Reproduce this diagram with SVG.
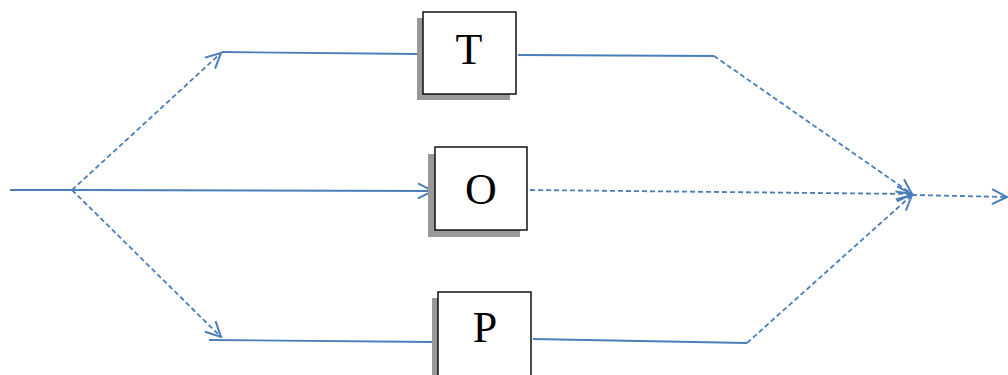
<svg xmlns="http://www.w3.org/2000/svg" width="1008" height="375" viewBox="0 0 1008 375">
<style>
.ln{fill:none;stroke:#4a7ebb;stroke-width:1.8}
.ds{stroke-dasharray:5,3}
.box{fill:#fff;stroke:#000;stroke-width:1.4}
.sh{fill:#999}
.lbl{font-family:"Liberation Serif","Times New Roman",serif;font-size:44px;fill:#000;text-anchor:middle}
</style>
<defs>
<marker id="arr" viewBox="0 0 18 18" refX="16" refY="9" markerWidth="18" markerHeight="18" markerUnits="userSpaceOnUse" orient="auto">
<path d="M1,1.5 L16,9 L1,16.5" fill="none" stroke="#4a7ebb" stroke-width="2"/>
</marker>
</defs>
<g id="connectors">
<line class="ln" x1="10" y1="190" x2="72" y2="190"/>
<line class="ln" x1="72" y1="190" x2="433" y2="191" marker-end="url(#arr)"/>
<line class="ln ds" x1="72" y1="190" x2="221" y2="53" marker-end="url(#arr)"/>
<line class="ln" x1="222" y1="52" x2="418" y2="54"/>
<line class="ln ds" x1="72" y1="190" x2="221" y2="337" marker-end="url(#arr)"/>
<line class="ln" x1="209" y1="340" x2="433" y2="342"/>
<polyline class="ln" points="518,55 714,56"/>
<line class="ln ds" x1="714" y1="56" x2="912" y2="194" marker-end="url(#arr)"/>
<line class="ln ds" x1="530" y1="190" x2="912" y2="194" marker-end="url(#arr)"/>
<polyline class="ln" points="533,339 747,343"/>
<line class="ln ds" x1="747" y1="343" x2="912" y2="195" marker-end="url(#arr)"/>
<line class="ln ds" x1="912" y1="195" x2="1007" y2="197" marker-end="url(#arr)"/>
</g>
<g id="node-T">
<rect class="sh" x="417" y="18" width="93" height="82"/>
<rect class="box" x="423" y="12" width="93" height="82"/>
<text class="lbl" x="469" y="64">T</text>
</g>
<g id="node-O">
<rect class="sh" x="428" y="154" width="92" height="83"/>
<rect class="box" x="435" y="147" width="92" height="83"/>
<text class="lbl" x="481" y="204">O</text>
</g>
<g id="node-P">
<rect class="sh" x="432" y="298" width="93" height="90"/>
<rect class="box" x="438" y="292" width="93" height="90"/>
<text class="lbl" x="485" y="342">P</text>
</g>
</svg>
